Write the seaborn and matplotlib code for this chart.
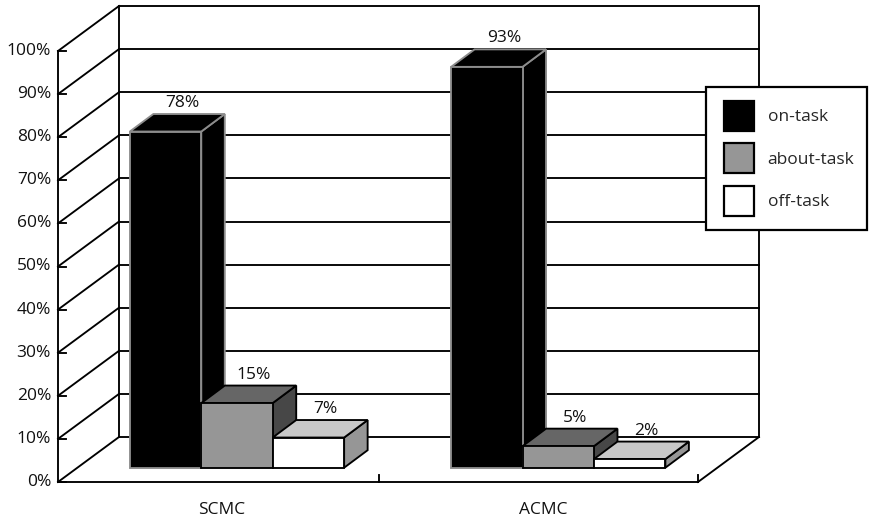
import matplotlib
matplotlib.use("Agg")
import matplotlib.pyplot as plt
from matplotlib.legend_handler import HandlerPatch
from matplotlib.patches import Patch, Polygon, Rectangle
import pandas as pd
import seaborn as sns

# Survey shares, in percent
groups = ["SCMC", "ACMC"]
kinds = ["on-task", "about-task", "off-task"]
on_task = [78, 93]
about_task = [15, 5]
off_task = [7, 2]
ticks = list(range(0, 101, 10))

FRONT = {"on-task": "#000000", "about-task": "#969696", "off-task": "#ffffff"}
TOP = {"on-task": "#000000", "about-task": "#666666", "off-task": "#c8c8c8"}
SIDE = {"on-task": "#000000", "about-task": "#474747", "off-task": "#969696"}
EDGE = {"on-task": "#8c8c8c", "about-task": "#000000", "off-task": "#000000"}

sns.set_theme(style="white")
plt.rcParams["font.family"] = ["Open Sans", "DejaVu Sans"]

W, H = 869, 525
X_UNIT = 321.25        # pixels between the two groups
Y_UNIT = 4.31          # pixels per percentage point
X0, Y0 = 237.0, 467.7  # pixel position of group 0 on the bar baseline
FONT = 12.5

fig = plt.figure(figsize=(W / 100, H / 100), dpi=100)
ax = fig.add_axes([0, 0, 1, 1])

long = pd.DataFrame({
    "group": groups * 3,
    "kind": [k for k in kinds for _ in groups],
    "share": on_task + about_task + off_task,
})
sns.barplot(data=long, x="group", y="share", hue="kind", order=groups,
            hue_order=kinds, palette=FRONT, width=0.667, gap=0, dodge=True,
            saturation=1, legend=False, ax=ax, errorbar=None)

ax.set_xlim(-X0 / X_UNIT, (W - X0) / X_UNIT)
ax.set_ylim((Y0 - H) / Y_UNIT, Y0 / Y_UNIT)
ax.axis("off")

# Box geometry, in data units
FLOOR = (Y0 - 482) / Y_UNIT
LEFT = (58 - X0) / X_UNIT
RIGHT = (698 - X0) / X_UNIT
MID = (379 - X0) / X_UNIT
WALL_DX, WALL_DY = 61 / X_UNIT, 45 / Y_UNIT
BAR_DX, BAR_DY = 23.5 / X_UNIT, 17.5 / Y_UNIT
LW = 1.35
frame = dict(color="black", lw=LW, zorder=1, solid_capstyle="projecting")

for v in ticks:
    y = FLOOR + v
    ax.plot([LEFT + WALL_DX, RIGHT + WALL_DX], [y + WALL_DY] * 2, **frame)
    ax.plot([LEFT, LEFT + WALL_DX], [y, y + WALL_DY], **frame)
    ax.plot([LEFT, LEFT + 8 / X_UNIT], [y, y], **frame)
    ax.text(LEFT - 7 / X_UNIT, y, f"{v}%", ha="right", va="center",
            fontsize=FONT, color="#111111")

for x in (LEFT, LEFT + WALL_DX, RIGHT + WALL_DX):
    base = FLOOR + (0 if x == LEFT else WALL_DY)
    ax.plot([x, x], [base, base + 100], **frame)
ax.plot([LEFT, RIGHT], [FLOOR, FLOOR], **frame)
ax.plot([RIGHT, RIGHT + WALL_DX], [FLOOR, FLOOR + WALL_DY], **frame)
for x in (MID, RIGHT):
    ax.plot([x, x], [FLOOR, FLOOR + 7 / Y_UNIT], **frame)

# Extrude each bar: side and top first, then its front face on top of them
for k, (kind, container) in enumerate(zip(kinds, ax.containers)):
    for g, bar in enumerate(container):
        z = 3 + 3 * (2 * g + k / 3) / 2
        x0, w, h = bar.get_x(), bar.get_width(), bar.get_height()
        x1 = x0 + w
        style = dict(edgecolor=EDGE[kind], lw=LW, joinstyle="miter")
        ax.add_patch(Polygon([(x1, 0), (x1 + BAR_DX, BAR_DY),
                              (x1 + BAR_DX, h + BAR_DY), (x1, h)],
                             facecolor=SIDE[kind], zorder=z, **style))
        ax.add_patch(Polygon([(x0, h), (x0 + BAR_DX, h + BAR_DY),
                              (x1 + BAR_DX, h + BAR_DY), (x1, h)],
                             facecolor=TOP[kind], zorder=z, **style))
        bar.set(edgecolor=EDGE[kind], linewidth=LW, zorder=z + 0.1,
                joinstyle="miter")
        ax.text(x0 + w / 2 + 17 / X_UNIT, h + BAR_DY + 11 / Y_UNIT, f"{h:.0f}%",
                ha="center", va="center", fontsize=FONT, color="#111111",
                zorder=z + 0.2)

for g, name in enumerate(groups):
    ax.text(g - 15 / X_UNIT, (Y0 - 510) / Y_UNIT, name, ha="center",
            va="center", fontsize=FONT, color="#111111")


def square_swatch(legend, orig_handle, xdescent, ydescent, width, height, fontsize):
    # Swatch sits at the right of its slot, leaving extra room on the left
    side = 1.73 * fontsize
    return Rectangle((width - side - xdescent, -ydescent), side, height)


handles = [Patch(facecolor=FRONT[k], edgecolor="#000000", linewidth=1.6,
                 label=k) for k in kinds]
leg = ax.legend(handles=handles, loc="upper left", mode="expand",
                bbox_to_anchor=(705.7 / W, 1 - 230 / H, 161 / W, 143 / H),
                bbox_transform=fig.transFigure, borderaxespad=0,
                fontsize=FONT, handlelength=1.96, handleheight=2.28,
                labelspacing=0.72, borderpad=0.8, handletextpad=0.8,
                fancybox=False, framealpha=1, edgecolor="black",
                handler_map={Patch: HandlerPatch(patch_func=square_swatch)})
leg.get_frame().set_linewidth(1.6)
leg.set_zorder(20)

fig.savefig("out.png", dpi=100, facecolor="white")
